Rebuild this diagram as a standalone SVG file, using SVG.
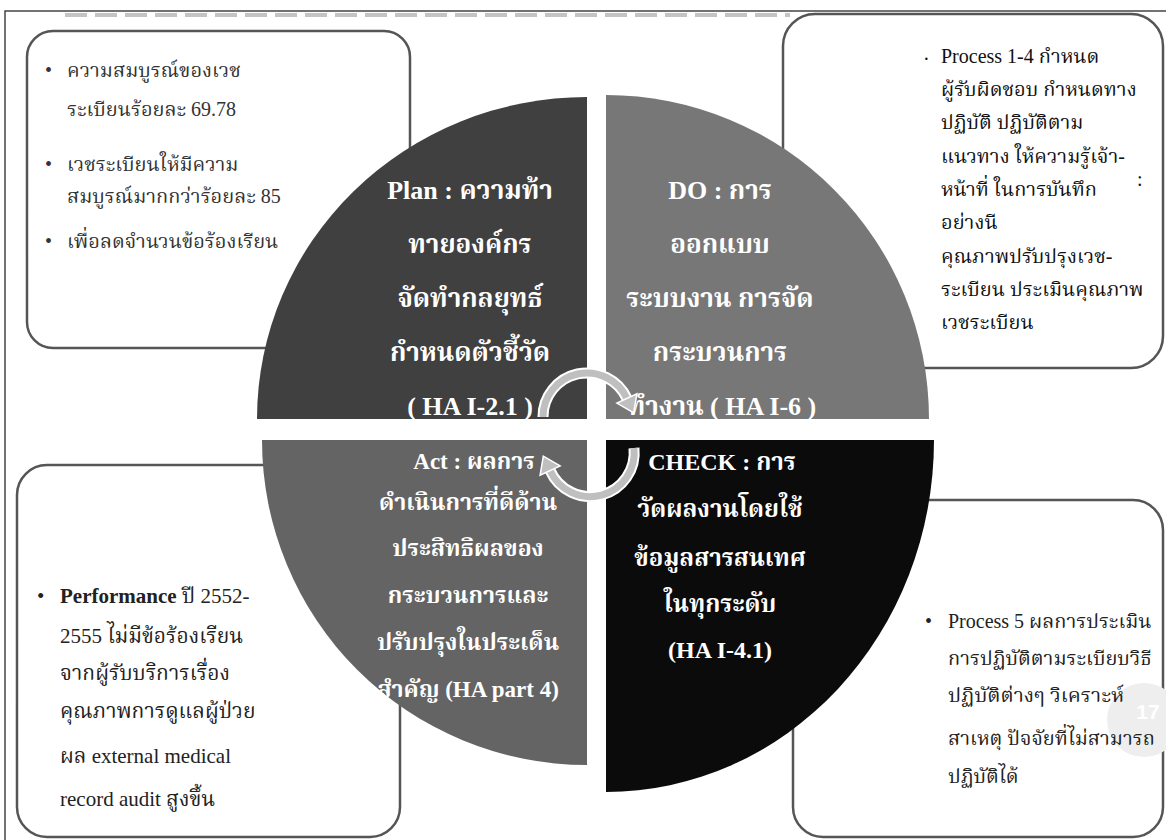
<svg xmlns="http://www.w3.org/2000/svg" width="1166" height="840" viewBox="0 0 1166 840">
<style>
.box{fill:#fff;stroke:#555;stroke-width:2.5}
.bt{font-family:"Liberation Serif","Noto Serif Thai","Noto Sans Thai",serif;font-size:20px;fill:#333}
.bl{font-size:21px;fill:#222}
.br{font-size:20px;fill:#222}
.bt2{font-family:"Liberation Serif","Noto Serif Thai","Noto Sans Thai",serif;font-size:20px;fill:#111}
.qt{font-family:"Liberation Serif","Noto Serif Thai","Noto Sans Thai",serif;font-size:24px;font-weight:bold;fill:#fff;text-anchor:middle}
.qp{font-size:26px}
.qs{font-size:23px}
.arc{fill:none;stroke-linecap:butt}
</style>
<rect x="0" y="0" width="1166" height="840" fill="#fff"/>
<rect x="5" y="11" width="1170" height="835" fill="none" stroke="#444" stroke-width="1.5"/>
<line x1="65" y1="15" x2="790" y2="15" stroke="#c4c4c4" stroke-width="4" stroke-dasharray="22 8"/>

<g id="box-tl">
<rect class="box" x="27" y="31" width="383" height="317" rx="26"/>
<text class="bt" x="45" y="77">•</text>
<text class="bt" x="67" y="77">ความสมบูรณ์ของเวช</text>
<text class="bt" x="67" y="116">ระเบียนร้อยละ 69.78</text>
<text class="bt" x="45" y="171">•</text>
<text class="bt" x="67" y="171">เวชระเบียนให้มีความ</text>
<text class="bt" x="67" y="203">สมบูรณ์มากกว่าร้อยละ 85</text>
<text class="bt" x="45" y="248">•</text>
<text class="bt" x="67" y="248">เพื่อลดจำนวนข้อร้องเรียน</text>
</g>

<g id="box-tr">
<rect class="box" x="783" y="14" width="380" height="354" rx="32"/>
<text class="bt2" x="923" y="66" font-size="14">·</text>
<text class="bt2" x="941" y="63">Process 1-4 กำหนด</text>
<text class="bt2" x="941" y="96">ผู้รับผิดชอบ กำหนดทาง</text>
<text class="bt2" x="941" y="129">ปฏิบัติ ปฏิบัติตาม</text>
<text class="bt2" x="941" y="163">แนวทาง ให้ความรู้เจ้า-</text>
<text class="bt2" x="941" y="196">หน้าที่ ในการบันทึก</text>
<text class="bt2" x="941" y="229">อย่างนี</text>
<text class="bt2" x="941" y="263">คุณภาพปรับปรุงเวช-</text>
<text class="bt2" x="941" y="296">ระเบียน ประเมินคุณภาพ</text>
<text class="bt2" x="941" y="329">เวชระเบียน</text>
<text class="bt2" x="1137" y="186" font-size="10">:</text>
</g>

<g id="box-bl">
<rect class="box" x="17" y="465" width="383" height="372" rx="30"/>
<text class="bt bl" x="37" y="603">•</text>
<text class="bt bl" x="60" y="603"><tspan font-weight="bold">Performance</tspan> ปี 2552-</text>
<text class="bt bl" x="60" y="643">2555 ไม่มีข้อร้องเรียน</text>
<text class="bt bl" x="60" y="680">จากผู้รับบริการเรื่อง</text>
<text class="bt bl" x="60" y="718">คุณภาพการดูแลผู้ป่วย</text>
<text class="bt bl" x="60" y="763">ผล external medical</text>
<text class="bt bl" x="60" y="806">record audit สูงขึ้น</text>
</g>

<g id="box-br">
<rect class="box" x="793" y="500" width="370" height="337" rx="30"/>
<circle cx="1144" cy="720" r="37" fill="#eeeeee"/>
<text x="1148" y="719" font-family="Liberation Sans, Arial, sans-serif" font-size="21" font-weight="bold" fill="#fff" text-anchor="middle">17</text>
<text class="bt br" x="925" y="628">•</text>
<text class="bt br" x="948" y="628">Process 5 ผลการประเมิน</text>
<text class="bt br" x="948" y="665">การปฏิบัติตามระเบียบวิธี</text>
<text class="bt br" x="948" y="702" textLength="176" lengthAdjust="spacingAndGlyphs">ปฏิบัติต่างๆ วิเคราะห์</text>
<text class="bt br" x="948" y="745">สาเหตุ ปัจจัยที่ไม่สามารถ</text>
<text class="bt br" x="948" y="783">ปฏิบัติได้</text>
</g>

<g id="plan">
<path d="M587,419 L257,419 A330,322 0 0 1 587,97 Z" fill="#404040"/>
<text class="qt qp" x="470" y="199">Plan :  ความท้า</text>
<text class="qt qp" x="470" y="253">ทายองค์กร</text>
<text class="qt qp" x="470" y="307">จัดทำกลยุทธ์</text>
<text class="qt qp" x="470" y="361">กำหนดตัวชี้วัด</text>
<text class="qt qp" x="470" y="415">( HA I-2.1 )</text>
</g>

<g id="do">
<path d="M606,419 L606,95 A323,324 0 0 1 929,419 Z" fill="#777777"/>
<text class="qt qp" x="720" y="199">DO : การ</text>
<text class="qt qp" x="720" y="253">ออกแบบ</text>
<text class="qt qp" x="720" y="307">ระบบงาน การจัด</text>
<text class="qt qp" x="720" y="361">กระบวนการ</text>
<text class="qt qp" x="722" y="415">ทำงาน ( HA I-6 )</text>
</g>

<g id="act">
<path d="M587,440 L587,765 A325,325 0 0 1 262,440 Z" fill="#646464"/>
<text class="qt qs" x="474" y="469">Act : ผลการ</text>
<text class="qt qs" x="468" y="510">ดำเนินการที่ดีด้าน</text>
<text class="qt qs" x="468" y="556">ประสิทธิผลของ</text>
<text class="qt qs" x="468" y="603">กระบวนการและ</text>
<text class="qt qs" x="468" y="650">ปรับปรุงในประเด็น</text>
<text class="qt qs" x="468" y="697">สำคัญ (HA part 4)</text>
</g>

<g id="check">
<path d="M606,440 L934,440 A328,352 0 0 1 606,792 Z" fill="#0b0b0b"/>
<text class="qt" x="722" y="470">CHECK : การ</text>
<text class="qt" x="720" y="517">วัดผลงานโดยใช้</text>
<text class="qt" x="720" y="566">ข้อมูลสารสนเทศ</text>
<text class="qt" x="720" y="612">ในทุกระดับ</text>
<text class="qt" x="720" y="658">(HA I-4.1)</text>
</g>

<g id="connectors">
<path class="arc" d="M543,417 A44,44 0 0 1 626.9,398.4" stroke="#fff" stroke-width="11"/>
<path class="arc" d="M543,417 A44,44 0 0 1 626.9,398.4" stroke="#bfbfbf" stroke-width="7"/>
<polygon points="636.9,393.7 633.7,412.9 616.9,403.1" fill="#bfbfbf" stroke="#fff" stroke-width="1.5"/>
<path class="arc" d="M634,448 A44,44 0 0 1 550.1,470.6" stroke="#fff" stroke-width="11"/>
<path class="arc" d="M634,448 A44,44 0 0 1 550.1,470.6" stroke="#bfbfbf" stroke-width="7"/>
<polygon points="560.1,465.9 543.3,456.1 540.1,475.3" fill="#bfbfbf" stroke="#fff" stroke-width="1.5"/>
</g>
</svg>
